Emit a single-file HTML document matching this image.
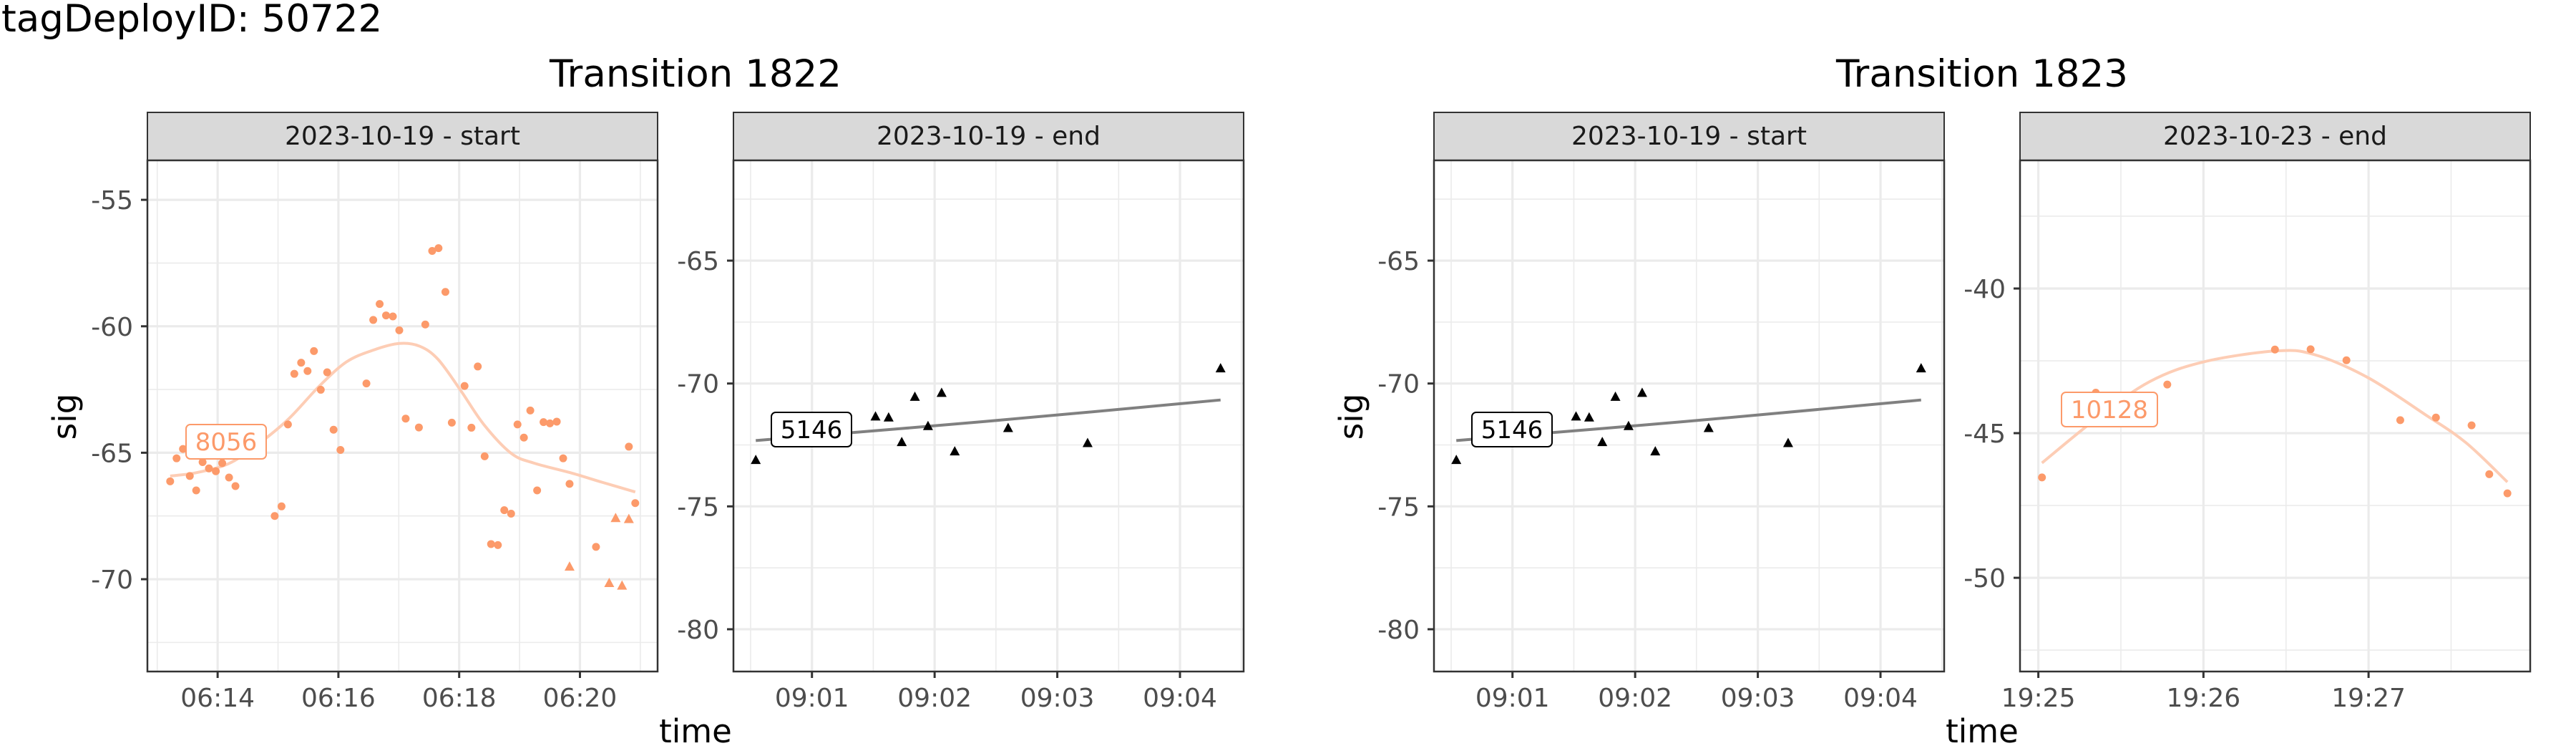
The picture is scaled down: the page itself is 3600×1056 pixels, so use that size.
<!DOCTYPE html>
<html><head><meta charset="utf-8"><style>
html,body{margin:0;padding:0;background:#fff;}
svg{display:block;font-family:"DejaVu Sans","Liberation Sans",sans-serif;}
</style></head><body>
<svg id="c" width="3600" height="1056" viewBox="0 0 3600 1056" xmlns="http://www.w3.org/2000/svg">
<rect width="3600" height="1056" fill="#fff"/>
<text x="2" y="44" font-size="53" fill="#000">tagDeployID: 50722</text>
<text x="972" y="121" font-size="53" text-anchor="middle" fill="#000">Transition 1822</text>
<text x="2770" y="121" font-size="53" text-anchor="middle" fill="#000">Transition 1823</text>
<text transform="translate(106,582) rotate(-90)" font-size="45" text-anchor="middle">sig</text>
<text transform="translate(1904,582) rotate(-90)" font-size="45" text-anchor="middle">sig</text>
<text x="972" y="1037" font-size="45" text-anchor="middle">time</text>
<text x="2770" y="1037" font-size="45" text-anchor="middle">time</text>
</svg>
<script>
// Panel 1 (Transition 1822 start) data: minutes of hour 06
const p1CircleTimes = [13.214,13.320,13.426,13.539,13.645,13.751,13.856,13.970,14.076,14.189,14.295,14.945,15.058,15.164,15.270,15.383,15.489,15.595,15.708,15.814,15.920,16.034,16.464,16.577,16.683,16.789,16.902,17.008,17.114,17.333,17.439,17.553,17.658,17.772,17.878,18.089,18.203,18.308,18.422,18.528,18.641,18.747,18.860,18.966,19.072,19.178,19.291,19.397,19.503,19.616,19.722,19.828,20.266,20.810,20.916];
const p1CircleSig = [-66.13,-65.22,-64.85,-65.92,-66.49,-65.37,-65.62,-65.73,-65.41,-65.98,-66.32,-67.50,-67.12,-63.88,-61.88,-61.44,-61.77,-60.98,-62.51,-61.82,-64.09,-64.89,-62.26,-59.75,-59.12,-59.57,-59.61,-60.16,-63.65,-64.00,-59.93,-57.02,-56.91,-58.64,-63.81,-62.36,-64.01,-61.59,-65.14,-68.61,-68.65,-67.27,-67.41,-63.88,-64.40,-63.33,-66.49,-63.79,-63.84,-63.77,-65.22,-66.23,-68.72,-64.76,-66.99];
const p1TriTimes = [19.828,20.485,20.591,20.697,20.810];
const p1TriSig = [-69.52,-70.17,-67.60,-70.27,-67.64];
const p1SmoothTimes = [13.214,13.645,14.174,14.627,15.164,15.686,16.139,16.593,17.008,17.348,17.651,18.029,18.407,18.860,19.238,19.843,20.372,20.916];
const p1SmoothSig = [-65.92,-65.79,-65.44,-64.74,-63.69,-62.36,-61.40,-60.93,-60.68,-60.79,-61.31,-62.55,-63.88,-65.02,-65.41,-65.79,-66.17,-66.55];
// Panels 2 & 3 (09:0x) minutes after 09:00
const p2TriTimes = [0.542,1.518,1.625,1.732,1.839,1.946,2.057,2.164,2.599,3.247,4.331];
const p2TriSig = [-73.13,-71.36,-71.40,-72.40,-70.56,-71.75,-70.40,-72.78,-71.83,-72.44,-69.40];
const p2FitTimes = [0.542,2.4,4.331];
const p2FitSig = [-72.32,-71.55,-70.67];
// Panel 4 (19:2x) minutes of hour 19
const p4CircleTimes = [25.022,25.348,25.781,26.433,26.649,26.866,27.192,27.408,27.624,27.731,27.841];
const p4CircleSig = [-46.53,-43.60,-43.32,-42.11,-42.10,-42.48,-44.55,-44.46,-44.73,-46.42,-47.08];
const p4SmoothTimes = [25.022,25.351,25.674,25.998,26.433,26.669,26.993,27.341,27.590,27.841];
const p4SmoothSig = [-46.03,-44.50,-43.22,-42.54,-42.16,-42.28,-43.07,-44.35,-45.33,-46.69];
// tick labels
const p1YTicks = [-70,-65,-60,-55];
const p1XTicks = [14,16,18,20];
const p1XLabels = ["06:14","06:16","06:18","06:20"];
const p2YTicks = [-80,-75,-70,-65];
const p2XTicks = [1,2,3,4];
const p2XLabels = ["09:01","09:02","09:03","09:04"];
const p4YTicks = [-50,-45,-40];
const p4XTicks = [25,26,27];
const p4XLabels = ["19:25","19:26","19:27"];

const NS = "http://www.w3.org/2000/svg";
const svg = document.getElementById('c');
function mk(tag, attrs, parent){const e=document.createElementNS(NS,tag);for(const k in attrs)e.setAttribute(k,attrs[k]);(parent||svg).appendChild(e);return e;}
const ORANGE="#FC9A6A", LORANGE="#FDCDB5";

function panel(o){
  const g = mk('g',{});
  
  
  const L=o.x0,R=o.x1,T=224,B=938;
  const sx=v=>L+(v-o.xd[0])/(o.xd[1]-o.xd[0])*(R-L);
  const sy=v=>B-(v-o.yd[0])/(o.yd[1]-o.yd[0])*(B-T);
  // strip
  const st = mk('rect',{x:L,y:157,width:R-L,height:67,fill:'#d9d9d9',stroke:'#333','stroke-width':2},g);
  
  
  const stt = mk('text',{x:(L+R)/2,y:202,'font-size':36,'text-anchor':'middle',fill:'#1a1a1a'},g);
  stt.textContent=o.strip;
  
  
  mk('rect',{x:L,y:T,width:R-L,height:B-T,fill:'#fff'},g);
  // minor grid
  const yt=o.yt, xt=o.xt;
  const ystep=yt[1]-yt[0], xstep=xt[1]-xt[0];
  for(let v=yt[0]-ystep/2; v<o.yd[1]; v+=ystep){ if(v>o.yd[0]) mk('line',{x1:L,x2:R,y1:sy(v),y2:sy(v),stroke:'#ebebeb','stroke-width':1.6},g);}
  for(let v=xt[0]-xstep/2; v<o.xd[1]; v+=xstep){ if(v>o.xd[0]) mk('line',{x1:sx(v),x2:sx(v),y1:T,y2:B,stroke:'#ebebeb','stroke-width':1.6},g);}
  yt.forEach(v=>{
    const l=mk('line',{x1:L,x2:R,y1:sy(v),y2:sy(v),stroke:'#ebebeb','stroke-width':3.2},g);
    
    
    mk('line',{x1:L-9,x2:L,y1:sy(v),y2:sy(v),stroke:'#333','stroke-width':3},g);
    const t=mk('text',{x:L-20,y:sy(v)+13,'font-size':36,'text-anchor':'end',fill:'#4d4d4d'},g);
    t.textContent=String(v);
    
    
  });
  xt.forEach((v,i)=>{
    const l=mk('line',{x1:sx(v),x2:sx(v),y1:T,y2:B,stroke:'#ebebeb','stroke-width':3.2},g);
    
    
    mk('line',{x1:sx(v),x2:sx(v),y1:B,y2:B+9,stroke:'#333','stroke-width':3},g);
    const t=mk('text',{x:sx(v),y:987,'font-size':36,'text-anchor':'middle',fill:'#4d4d4d'},g);
    t.textContent=o.xl[i];
    
    
  });
  // line
  if(o.lt){
    const pts=o.lt.map((t,i)=>[sx(t),sy(o.lv[i])]);
    let d='M'+pts[0][0]+','+pts[0][1];
    for(let i=0;i<pts.length-1;i++){
      const p0=pts[Math.max(0,i-1)],p1=pts[i],p2=pts[i+1],p3=pts[Math.min(pts.length-1,i+2)];
      const c1=[p1[0]+(p2[0]-p0[0])/6,p1[1]+(p2[1]-p0[1])/6];
      const c2=[p2[0]-(p3[0]-p1[0])/6,p2[1]-(p3[1]-p1[1])/6];
      d+=' C'+c1[0]+','+c1[1]+' '+c2[0]+','+c2[1]+' '+p2[0]+','+p2[1];
    }
    const p=mk('path',{d:d,fill:'none',stroke:o.lc,'stroke-width':4},g);
    
    
  }
  if(o.ct) o.ct.forEach((t,i)=>{
    const c=mk('circle',{cx:sx(t),cy:sy(o.cv[i]),r:5.5,fill:o.pc},g);
    
    
  });
  if(o.tt) o.tt.forEach((t,i)=>{
    const x=sx(t),y=sy(o.tv[i]);
    const p=mk('polygon',{points:(x-7)+','+(y+5)+' '+(x+7)+','+(y+5)+' '+x+','+(y-8),fill:o.tc},g);
    
    
  });
  // label
  const lb=mk('rect',{x:o.lab[0]-o.lab[2]/2,y:o.lab[1]-24,width:o.lab[2],height:48,rx:6,fill:'#fff',stroke:o.labc,'stroke-width':2},g);
  
  
  const lt=mk('text',{x:o.lab[0],y:o.lab[1]+12,'font-size':34,'text-anchor':'middle',fill:o.labc},g);
  lt.textContent=o.labt;
  
  
  const bd=mk('rect',{x:L,y:T,width:R-L,height:B-T,fill:'none',stroke:'#333','stroke-width':2.5},g);
  
  
}

panel({name:'panel-1822-start',x0:206,x1:919,xd:[12.837,21.286],yd:[-73.65,-53.44],yt:p1YTicks,xt:p1XTicks,xl:p1XLabels,strip:'2023-10-19 - start',
  lt:p1SmoothTimes,lv:p1SmoothSig,lc:LORANGE,ct:p1CircleTimes,cv:p1CircleSig,pc:ORANGE,tt:p1TriTimes,tv:p1TriSig,tc:ORANGE,lab:[316,617,112],labt:'8056',labc:ORANGE});
panel({name:'panel-1822-end',x0:1025,x1:1738,xd:[0.36,4.519],yd:[-81.72,-60.92],yt:p2YTicks,xt:p2XTicks,xl:p2XLabels,strip:'2023-10-19 - end',
  lt:p2FitTimes,lv:p2FitSig,lc:'#808080',tt:p2TriTimes,tv:p2TriSig,tc:'#000',lab:[1134,600,112],labt:'5146',labc:'#000'});
panel({name:'panel-1823-start',x0:2004,x1:2717,xd:[0.36,4.519],yd:[-81.72,-60.92],yt:p2YTicks,xt:p2XTicks,xl:p2XLabels,strip:'2023-10-19 - start',
  lt:p2FitTimes,lv:p2FitSig,lc:'#808080',tt:p2TriTimes,tv:p2TriSig,tc:'#000',lab:[2113,600,112],labt:'5146',labc:'#000'});
panel({name:'panel-1823-end',x0:2823,x1:3536,xd:[24.889,27.979],yd:[-53.24,-35.57],yt:p4YTicks,xt:p4XTicks,xl:p4XLabels,strip:'2023-10-23 - end',
  lt:p4SmoothTimes,lv:p4SmoothSig,lc:LORANGE,ct:p4CircleTimes,cv:p4CircleSig,pc:ORANGE,lab:[2948,572,134],labt:'10128',labc:ORANGE});
</script>
</body></html>
